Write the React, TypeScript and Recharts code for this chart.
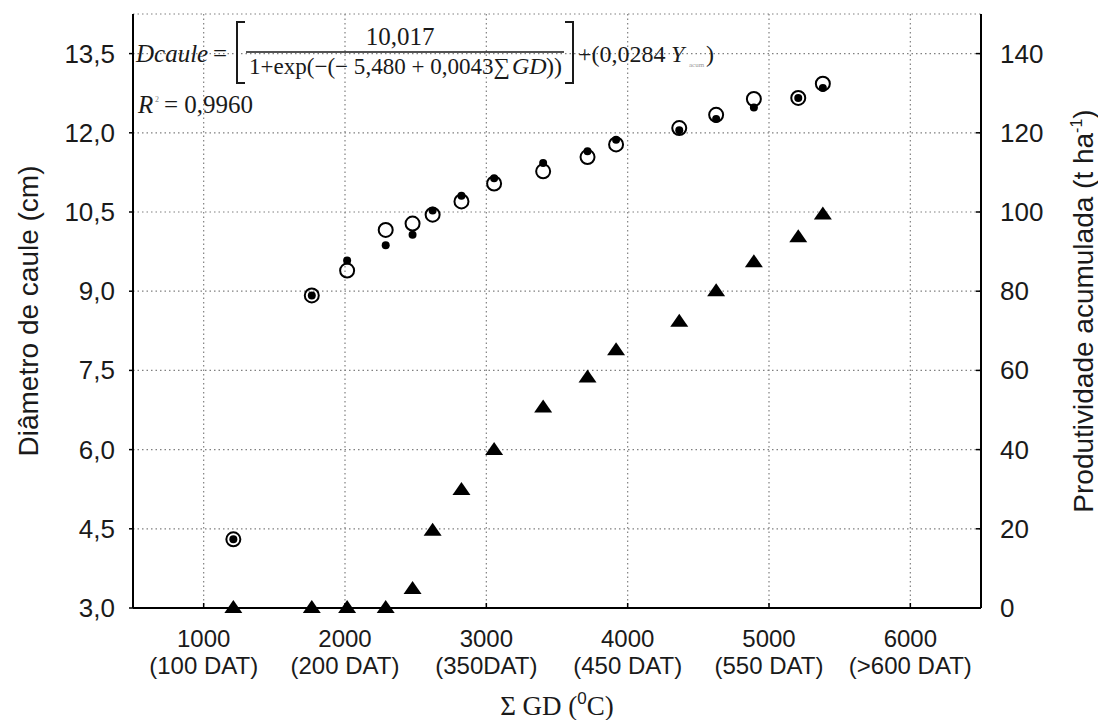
import React from "react";
import {
  CartesianGrid,
  Customized,
  Scatter,
  ScatterChart,
  XAxis,
  YAxis,
} from "recharts";

// Σ GD (°C) at each sampling date
const gdSum = [1210, 1765, 2015, 2288, 2478, 2620, 2824, 3055, 3402, 3716, 3918, 4365, 4626, 4893, 5207, 5381];
// stem diameter (cm), observed (open circles)
const diamObs = [4.3, 8.92, 9.39, 10.16, 10.28, 10.45, 10.7, 11.04, 11.27, 11.54, 11.78, 12.09, 12.34, 12.64, 12.66, 12.93];
// stem diameter (cm), model estimate (small filled dots)
const diamEst = [4.3, 8.92, 9.58, 9.87, 10.07, 10.53, 10.81, 11.14, 11.43, 11.65, 11.87, 12.05, 12.26, 12.48, 12.66, 12.85];
// accumulated yield (t ha-1), triangles
const prodAcum = [0, 0, 0, 0, 4.8, 19.5, 29.8, 39.9, 50.6, 58.2, 65.1, 72.3, 80.0, 87.3, 93.6, 99.4];

const xTicks = [1000, 2000, 3000, 4000, 5000, 6000];
const datLabels = ["(100 DAT)", "(200 DAT)", "(350DAT)", "(450 DAT)", "(550 DAT)", "(>600 DAT)"];
const leftTicks = [3, 4.5, 6, 7.5, 9, 10.5, 12, 13.5];
const rightTicks = [0, 20, 40, 60, 80, 100, 120, 140];

const obsData = gdSum.map((x, i) => ({ x, y: diamObs[i] }));
const estData = gdSum.map((x, i) => ({ x, y: diamEst[i] }));
const prodData = gdSum.map((x, i) => ({ x, y: prodAcum[i] }));

const SANS = "'Liberation Sans', Arial, sans-serif";
const SERIF = "'Liberation Serif', 'Times New Roman', serif";
const INK = "#1a1a1a";

function GdTick({ x, y, payload }: any) {
  const i = xTicks.indexOf(payload.value);
  return (
    <g fontFamily={SANS} fontSize={24} fill={INK}>
      <text x={x} y={y + 39} textAnchor="middle">{payload.value}</text>
      <text x={x} y={y + 66} textAnchor="middle">{datLabels[i]}</text>
    </g>
  );
}

function LeftTick({ x, y, payload }: any) {
  return (
    <text x={x} y={y} dy={9} textAnchor="end" fontFamily={SANS} fontSize={26} fill={INK}>
      {payload.value.toFixed(1).replace(".", ",")}
    </text>
  );
}

function RightTick({ x, y, payload }: any) {
  return (
    <text x={x} y={y} dy={9} textAnchor="start" fontFamily={SANS} fontSize={26} fill={INK}>
      {payload.value}
    </text>
  );
}

const openCircle = (p: any) => (
  <circle cx={p.cx} cy={p.cy} r={7} fill="none" stroke="#000" strokeWidth={2} />
);
const dot = (p: any) => <circle cx={p.cx} cy={p.cy} r={4} fill="#000" />;
const triangle = (p: any) => (
  <path
    d={`M${p.cx},${p.cy - 8} L${p.cx + 9},${p.cy + 5} L${p.cx - 9},${p.cy + 5} Z`}
    fill="#000"
  />
);

// equation, R² and the axis titles
function Annotations() {
  return (
    <g>
      <g fontFamily={SERIF} fill={INK}>
        <text x={136} y={62} fontSize={25} fontStyle="italic">Dcaule</text>
        <text x={213} y={62} fontSize={25}>=</text>
        <path d="M245,22 L237,22 L237,83 L245,83" fill="none" stroke={INK} strokeWidth={2} />
        <text x={400} y={45} fontSize={25} textAnchor="middle">10,017</text>
        <line x1={246} x2={564} y1={52} y2={52} stroke={INK} strokeWidth={1.5} />
        <text x={249} y={74} fontSize={23} textLength={261} lengthAdjust="spacingAndGlyphs">
          1+exp(−(− 5,480 + 0,0043∑
        </text>
        <text x={512} y={74} fontSize={24} fontStyle="italic">GD</text>
        <text x={562} y={74} fontSize={24} textAnchor="end">))</text>
        <path d="M565,22 L573,22 L573,83 L565,83" fill="none" stroke={INK} strokeWidth={2} />
        <text x={578} y={62} fontSize={24}>+(0,0284</text>
        <text x={671} y={62} fontSize={24} fontStyle="italic">Y</text>
        <text x={689} y={67} fontSize={7} fill="#999">acum</text>
        <text x={706} y={62} fontSize={24}>)</text>
        <text x={138} y={113} fontSize={25} fontStyle="italic">R</text>
        <text x={155} y={102} fontSize={8} fill="#888">2</text>
        <text x={164} y={113} fontSize={25}>= 0,9960</text>
      </g>
      <text
        x={28}
        y={311}
        dy={10}
        transform="rotate(-90, 28, 311)"
        textAnchor="middle"
        fontFamily={SANS}
        fontSize={28}
        fill={INK}
      >
        Diâmetro de caule (cm)
      </text>
      <text
        x={1083}
        y={311}
        dy={10}
        transform="rotate(-90, 1083, 311)"
        textAnchor="middle"
        fontFamily={SANS}
        fontSize={28}
        fill={INK}
      >
        Produtividade acumulada (t ha<tspan fontSize={16} dy={-11}>-1</tspan>
        <tspan dy={11}>)</tspan>
      </text>
      <text x={557} y={715} textAnchor="middle" fontFamily={SERIF} fontSize={27} fill={INK}>
        Σ GD (<tspan fontFamily={SANS} fontSize={17} dy={-11}>0</tspan>
        <tspan dy={11}>C)</tspan>
      </text>
    </g>
  );
}

export default function App() {
  return (
    <div style={{ position: "absolute", left: 0, top: 0, width: 1098, height: 720, background: "#fff" }}>
      <ScatterChart width={1098} height={720} margin={{ top: 14, right: 0, bottom: 0, left: 0 }}>
        <CartesianGrid
          yAxisId="left"
          stroke="#808080"
          strokeWidth={1.2}
          strokeDasharray="1.5 3"
        />
        <XAxis
          type="number"
          dataKey="x"
          domain={[500, 6500]}
          ticks={xTicks}
          height={112}
          tickSize={-5}
          tickMargin={5}
          tick={<GdTick />}
          axisLine={{ stroke: "#000", strokeWidth: 2 }}
          tickLine={{ stroke: "#000", strokeWidth: 1.5 }}
        />
        <XAxis
          xAxisId="top"
          orientation="top"
          type="number"
          dataKey="x"
          domain={[500, 6500]}
          height={0}
          tick={false}
          tickLine={false}
          axisLine={{ stroke: "#000", strokeWidth: 2 }}
        />
        <YAxis
          yAxisId="left"
          type="number"
          dataKey="y"
          domain={[3, 14.25]}
          ticks={leftTicks}
          width={133}
          tickSize={4}
          tickMargin={14}
          tick={<LeftTick />}
          axisLine={{ stroke: "#000", strokeWidth: 2 }}
          tickLine={{ stroke: "#000", strokeWidth: 1.5 }}
        />
        <YAxis
          yAxisId="right"
          orientation="right"
          type="number"
          dataKey="y"
          domain={[0, 150]}
          ticks={rightTicks}
          width={117}
          tickSize={-5}
          tickMargin={24}
          tick={<RightTick />}
          axisLine={{ stroke: "#000", strokeWidth: 2 }}
          tickLine={{ stroke: "#000", strokeWidth: 1.5 }}
        />
        <Scatter data={prodData} yAxisId="right" shape={triangle} isAnimationActive={false} />
        <Scatter data={obsData} yAxisId="left" shape={openCircle} isAnimationActive={false} />
        <Scatter data={estData} yAxisId="left" shape={dot} isAnimationActive={false} />
        <Customized component={Annotations} />
      </ScatterChart>
    </div>
  );
}
